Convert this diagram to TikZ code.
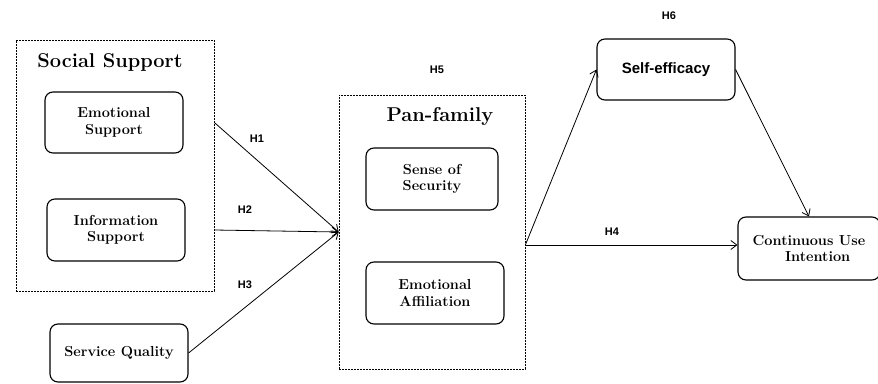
\documentclass[tikz,border=0pt]{standalone}
\usepackage{fontspec}
\newfontfamily\hfont{Liberation Sans}
\usetikzlibrary{arrows.meta}

\begin{document}
\begin{tikzpicture}[x=1pt, y=-1pt, >={Straight Barb[length=6pt,width=9pt]},
    construct/.style ={rectangle, rounded corners=8pt, draw, line width=1.1pt, align=center,
                       inner sep=0pt, font=\fontsize{14.5}{16.5}\selectfont\bfseries},
    group/.style ={rectangle, draw, dashed, dash pattern=on 2pt off 1pt, line width=0.7pt, inner sep=0pt},
    title/.style ={font=\fontsize{20}{22}\selectfont\bfseries},
    hyp/.style ={font=\fontsize{11}{12}\selectfont\hfont\bfseries}]
   \useasboundingbox (0,0) rectangle (878,383);
   % groups
   \node[group, minimum width=198pt, minimum height=251pt] (ss)  at (115,165.5) {};
   \node[group, minimum width=186pt, minimum height=274pt] (pan) at (432,232) {};
   \node[title] (sst) at (110,62) {Social Support};
   \node[title] (pant) at (440,116) {Pan-family};
   % constructs
   \node[construct, minimum width=138pt, minimum height=61pt] (es)  at (114,122.5) {Emotional\\Support};
   \node[construct, minimum width=138pt, minimum height=62pt] (is)  at (116,230) {Information\\Support};
   \node[construct, minimum width=138pt, minimum height=58pt] (sq)  at (119,353) {Service Quality};
   \node[construct, minimum width=132pt, minimum height=62pt] (sec) at (432,179) {Sense of\\Security};
   \node[construct, minimum width=138pt, minimum height=62pt] (ea)  at (435,293) {Emotional\\Affiliation};
   \node[construct, minimum width=138pt, minimum height=61pt, font=\fontsize{15}{17}\selectfont\hfont\bfseries] (se) at (666,69.5) {Self-efficacy};
   \node[construct, minimum width=142pt, minimum height=63pt] (cui) at (809,248.5) {Continuous Use\\\hspace{1.2em}Intention};
   \coordinate (pin)  at (pan.west);
   \coordinate (pout) at ([yshift=-13pt]pan.east);
   % paths
   \draw[thick, ->] (ss.east |- es.center) to (pin);
   \draw[thick, ->] (ss.east |- is.center) to (pin);
   \draw[thick, ->] (sq.east) to (pin);
   \draw[thick, ->] (pout) to (se.west);
   \draw[thick, ->] (pout) to (pout -| cui.west);
   \draw[thick, ->] (se.east) to (cui.north);
   % hypotheses
   \node[hyp] (h1) at (257,139) {H1};
   \node[hyp] (h2) at (245,210) {H2};
   \node[hyp] (h3) at (245,285) {H3};
   \node[hyp] (h4) at (612,232) {H4};
   \node[hyp] (h5) at (437,70) {H5};
   \node[hyp] (h6) at (669,16) {H6};
\end{tikzpicture}
\end{document}
